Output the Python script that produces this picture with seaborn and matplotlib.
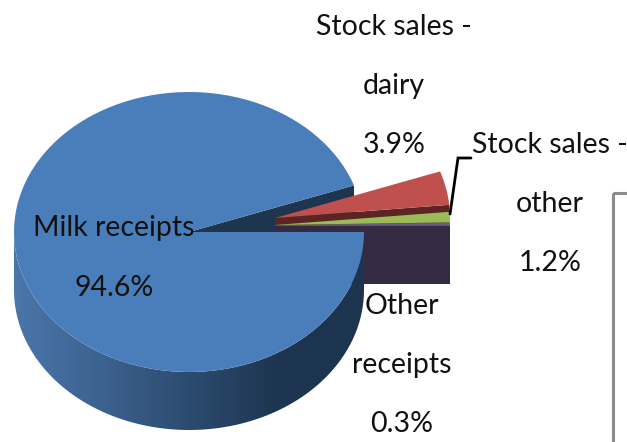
import numpy as np
import matplotlib
matplotlib.use('Agg')
import matplotlib.pyplot as plt
from matplotlib.patches import Polygon, Rectangle
import seaborn as sns

labels = ['Milk receipts', 'Stock sales -\ndairy', 'Stock sales -\nother', 'Other\nreceipts']
shares = [94.6, 3.9, 1.2, 0.3]

blue = '#4a7ebb'
top_colors = ['#c0504d', '#9bbb59', '#6d5a86']
wall_colors = ['#5a2522', '#4e6030', '#352a44']
navy = '#1e3550'

sns.set_theme(style='white')
plt.rcParams['font.family'] = ['Lato', 'DejaVu Sans']

# pie geometry in pixels
cx, cy = 189, 232
rx, ry = 175, 140
depth = 58
small_apex = [(275, 218), (275, 225), (275, 225.5)]


def rim(x0, y0, a0, a1):
    t = np.radians(np.linspace(a0, a1, 120))
    return np.column_stack([x0 + rx * np.cos(t), y0 - ry * np.sin(t)])


fig = plt.figure(figsize=(6.27, 4.42), dpi=100)
ax = fig.add_axes([0, 0, 1, 1])
ax.set_xlim(0, 627)
ax.set_ylim(442, 0)
ax.axis('off')

# angles come from the shares, slices run clockwise from the end of milk
degs = [s / sum(shares) * 360 for s in shares]
small_deg = degs[1:]
start = sum(small_deg)

# cut side of the milk slice, seen through the gap
edge = rim(cx, cy, start, start)[0]
ax.add_patch(Polygon([(cx, cy), edge, (edge[0], edge[1] + depth), (cx, cy + depth)], color=navy, lw=0))

# small slices, back to front
a = start
for (ax0, ay0), d, top, wall in zip(small_apex, small_deg, top_colors, wall_colors):
    arc = rim(ax0, ay0, a, a - d)
    low = arc[-1]
    ax.add_patch(Polygon([(ax0, ay0), low, (low[0], low[1] + depth), (ax0, ay0 + depth)], color=wall, lw=0))
    ax.add_patch(Polygon(np.vstack([[(ax0, ay0)], arc]), color=top, lw=0))
    a -= d

# outer wall of the milk slice with its shading
front = np.vstack([rim(cx, cy, 180, 360), rim(cx, cy + depth, 360, 180)])
shade = sns.blend_palette(['#4a76aa', '#3c628f', '#2c4b70', '#1e3550', '#1d3450'], 256, as_cmap=True)
grad = ax.imshow(np.linspace(0, 1, 256)[None, :], extent=(cx - rx, cx + rx, cy + depth + ry, cy - ry),
                 cmap=shade, aspect='auto', zorder=3)
grad.set_clip_path(Polygon(front, transform=ax.transData))
ax.set_xlim(0, 627)
ax.set_ylim(442, 0)

# top of the milk slice
ax.add_patch(Polygon(np.vstack([[(cx, cy)], rim(cx, cy, start, 360)]), color=blue, lw=0, zorder=4))

# box cut off by the image edge
ax.add_patch(Rectangle((613, 193), 40, 300, fill=False, ec='#8c8c8c', lw=2.2, zorder=5, clip_on=True))

# leader line for the other stock sales
ax.plot([450, 458, 471], [214, 158, 158], color='black', lw=2, solid_joinstyle='miter', zorder=5)

# labels
label_pos = [(114, 258), (394, 86), (550, 204), (402, 365)]
for name, s, (lx, ly) in zip(labels, shares, label_pos):
    ax.text(lx, ly, f'{name}\n{s}%', ha='center', va='center', fontsize=20.5, color='#111111',
            linespacing=2.58, zorder=6)

fig.savefig('out.png', dpi=100)
